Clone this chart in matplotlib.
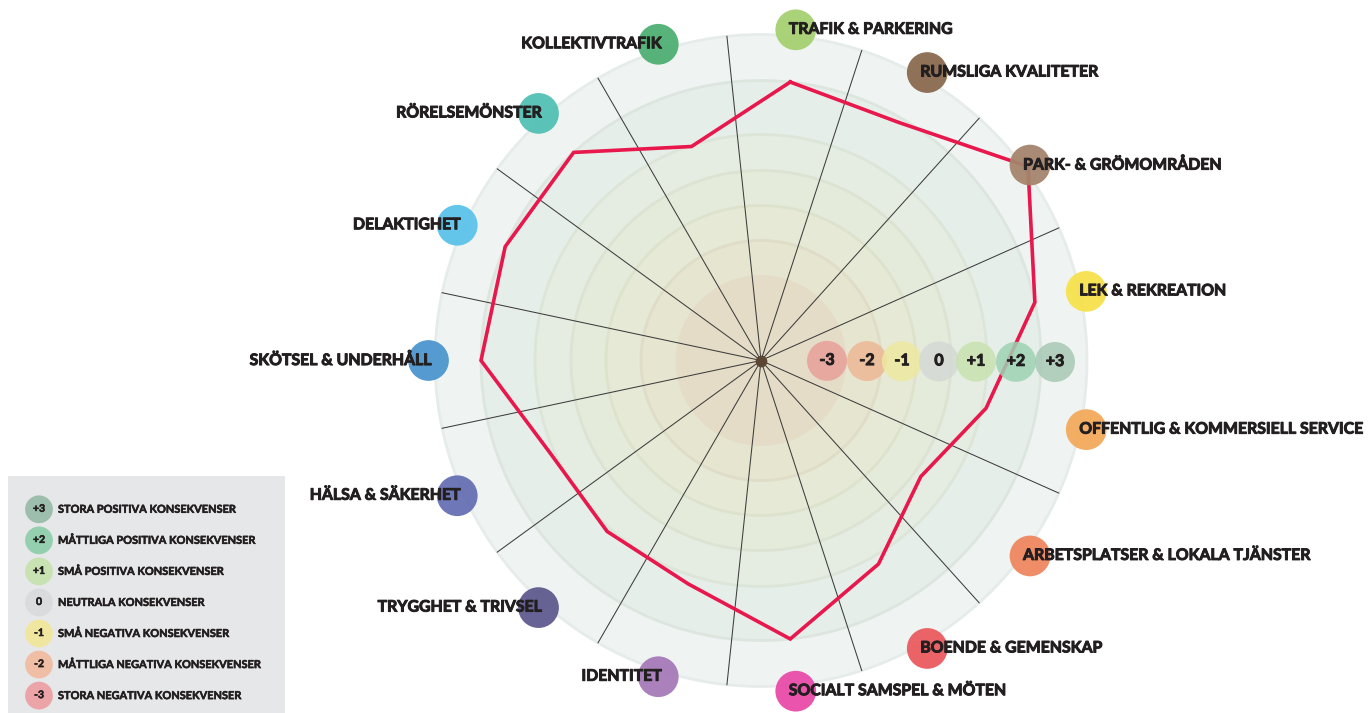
import numpy as np
import matplotlib
matplotlib.use("Agg")
import matplotlib.pyplot as plt
import matplotlib.patheffects as pe

plt.rcParams['font.family'] = ['Lato', 'DejaVu Sans']

# ---------------- data ----------------
categories = ["TRAFIK & PARKERING", "RUMSLIGA KVALITETER", "PARK- & GRÖMOMRÅDEN",
              "LEK & REKREATION", "OFFENTLIG & KOMMERSIELL SERVICE",
              "ARBETSPLATSER & LOKALA TJÄNSTER", "BOENDE & GEMENSKAP",
              "SOCIALT SAMSPEL & MÖTEN", "IDENTITET", "TRYGGHET & TRIVSEL",
              "HÄLSA & SÄKERHET", "SKÖTSEL & UNDERHÅLL", "DELAKTIGHET",
              "RÖRELSEMÖNSTER", "KOLLEKTIVTRAFIK"]
values = [2.0, 1.9, 3.0, 2.0, 1.0, 0.35, 1.1, 2.0, 1.1, 1.0, 1.0, 2.0, 2.0, 2.0, 0.9]
category_colors = ["#a6d172", "#8a6a4f", "#a5846c", "#f7e14c", "#f3aa5c", "#ef8761",
                   "#ea5b5f", "#e94ba9", "#a67ab8", "#5f5b8e", "#6670b3", "#4c96cf",
                   "#5cc2ea", "#53c0b5", "#4eaf72"]

scale_labels = ["-3", "-2", "-1", "0", "+1", "+2", "+3"]
scale_colors = ["#e8a098", "#ecb896", "#eee8a0", "#d4dad4", "#c8e2b0", "#9ed2b2", "#a8c8b4"]

legend_values = ["+3", "+2", "+1", "0", "-1", "-2", "-3"]
legend_texts = ["STORA POSITIVA KONSEKVENSER", "MÅTTLIGA POSITIVA KONSEKVENSER",
                "SMÅ POSITIVA KONSEKVENSER", "NEUTRALA KONSEKVENSER",
                "SMÅ NEGATIVA KONSEKVENSER", "MÅTTLIGA NEGATIVA KONSEKVENSER",
                "STORA NEGATIVA KONSEKVENSER"]
legend_colors = ["#9dbeac", "#94cfaf", "#c8e2b2", "#d9dbdc", "#f0e6a0", "#f0bea5", "#eba5a8"]

# ---------------- layout / style ----------------
W, H = 1370, 713
TXT = "#231f20"
cx, cy = 761, 360.5        # centre of radar in pixels (from top)
R_AX = 360                 # pixel radius of polar axes
RMIN, RMAX = -3.6, 3.6
heavy = [pe.withStroke(linewidth=0.7, foreground=TXT)]
heavy_s = [pe.withStroke(linewidth=0.4, foreground=TXT)]

ring_bounds = [2.92, 2.0, 0.92, 0.2, -0.5, -1.2, -1.92]
ring_colors = ["#eff4f2", "#e6eee9", "#e5ede2", "#e4ebdb", "#e5e9d5", "#e6e5cf", "#e5dcc8"]
ring_edge = ["#e6ecea", "#dce6df", "#dce5d8", "#dce3d2", "#dde2cd", "#dfdcc7", "#e5dcc8"]

fig = plt.figure(figsize=(W / 100, H / 100), dpi=100)
fig.patch.set_facecolor("white")

ax = fig.add_axes([(cx - R_AX) / W, (H - cy - R_AX) / H, 2 * R_AX / W, 2 * R_AX / H],
                  projection="polar")
ax.set_theta_zero_location("N")
ax.set_theta_direction(-1)
ax.set_rlim(RMIN, RMAX)
ax.axis("off")

tgrid = np.linspace(0, 2 * np.pi, 721)
for rb, fc, ec in zip(ring_bounds, ring_colors, ring_edge):
    ax.fill(tgrid, np.full_like(tgrid, rb), color=fc, lw=0, zorder=1)
    ax.plot(tgrid, np.full_like(tgrid, rb), color=ec, lw=2, zorder=1.5)

# spokes (dividers between categories), none under the scale row (east)
n = len(categories)
step = 360 / n
cat_deg = 6 + step * np.arange(n)
spoke_deg = cat_deg - step / 2
for d in spoke_deg:
    if abs(((d + 360) % 360) - 90) < 1:
        continue
    ax.plot([np.deg2rad(d)] * 2, [RMIN, ring_bounds[0]], color="#3d3d3d", lw=0.75, zorder=2)

# radar line
th = np.deg2rad(cat_deg)
ax.plot(np.append(th, th[0]), np.append(values, values[0]), color="#e8174c", lw=2.6,
        zorder=4, solid_joinstyle="miter")

# centre dot
ax.scatter([0], [RMIN], s=55, color="#5b4634", zorder=5, clip_on=False)

# category badges + labels
badge_r = 3.05
ax.scatter(th, [badge_r] * n, s=860, c=category_colors, alpha=0.95, lw=0, zorder=6, clip_on=False)
for t, d, lab in zip(th, cat_deg, categories):
    if d < 180:
        ax.annotate(lab, (t, badge_r), xytext=(-5, 0), textcoords="offset points",
                    ha="left", va="center", fontsize=11.4, fontweight="bold", color=TXT,
                    zorder=7, annotation_clip=False, path_effects=heavy)
    else:
        ax.annotate(lab, (t, badge_r), xytext=(2.5, 0), textcoords="offset points",
                    ha="right", va="center", fontsize=11.4, fontweight="bold", color=TXT,
                    zorder=7, annotation_clip=False, path_effects=heavy)

# scale badges along the east axis
scale_r = [-2.28, -1.48, -0.78, -0.04, 0.70, 1.50, 2.28]
st = np.deg2rad(90.3)
ax.scatter([st] * len(scale_r), scale_r, s=830, c=scale_colors, alpha=0.85, lw=0,
           zorder=6, clip_on=False)
for r, lab in zip(scale_r, scale_labels):
    ax.annotate(lab, (st, r), xytext=(0, 0), textcoords="offset points", ha="center",
                va="center", fontsize=11.5, fontweight="bold", color=TXT, zorder=7,
                path_effects=heavy)

# ---------------- legend box ----------------
lx0, ly0, lw_, lh_ = 8, 476, 277, H - 476
lax = fig.add_axes([lx0 / W, 0, lw_ / W, lh_ / H])
lax.set_xlim(0, lw_)
lax.set_ylim(lh_, 0)
lax.set_facecolor("#e6e7e8")
for s in lax.spines.values():
    s.set_visible(False)
lax.set_xticks([])
lax.set_yticks([])
ly = 33.3 + 31.05 * np.arange(len(legend_values))
lax.scatter([31] * len(ly), ly, s=400, c=legend_colors, lw=0, zorder=2)
for y, v, t in zip(ly, legend_values, legend_texts):
    lax.text(31, y, v, ha="center", va="center", fontsize=7.5, fontweight="bold", color=TXT,
             zorder=3, path_effects=heavy_s)
    lax.text(50, y, t, ha="left", va="center", fontsize=7.9, fontweight="bold", color=TXT,
             zorder=3, path_effects=heavy_s)

fig.savefig("out.png", dpi=100, facecolor="white")
